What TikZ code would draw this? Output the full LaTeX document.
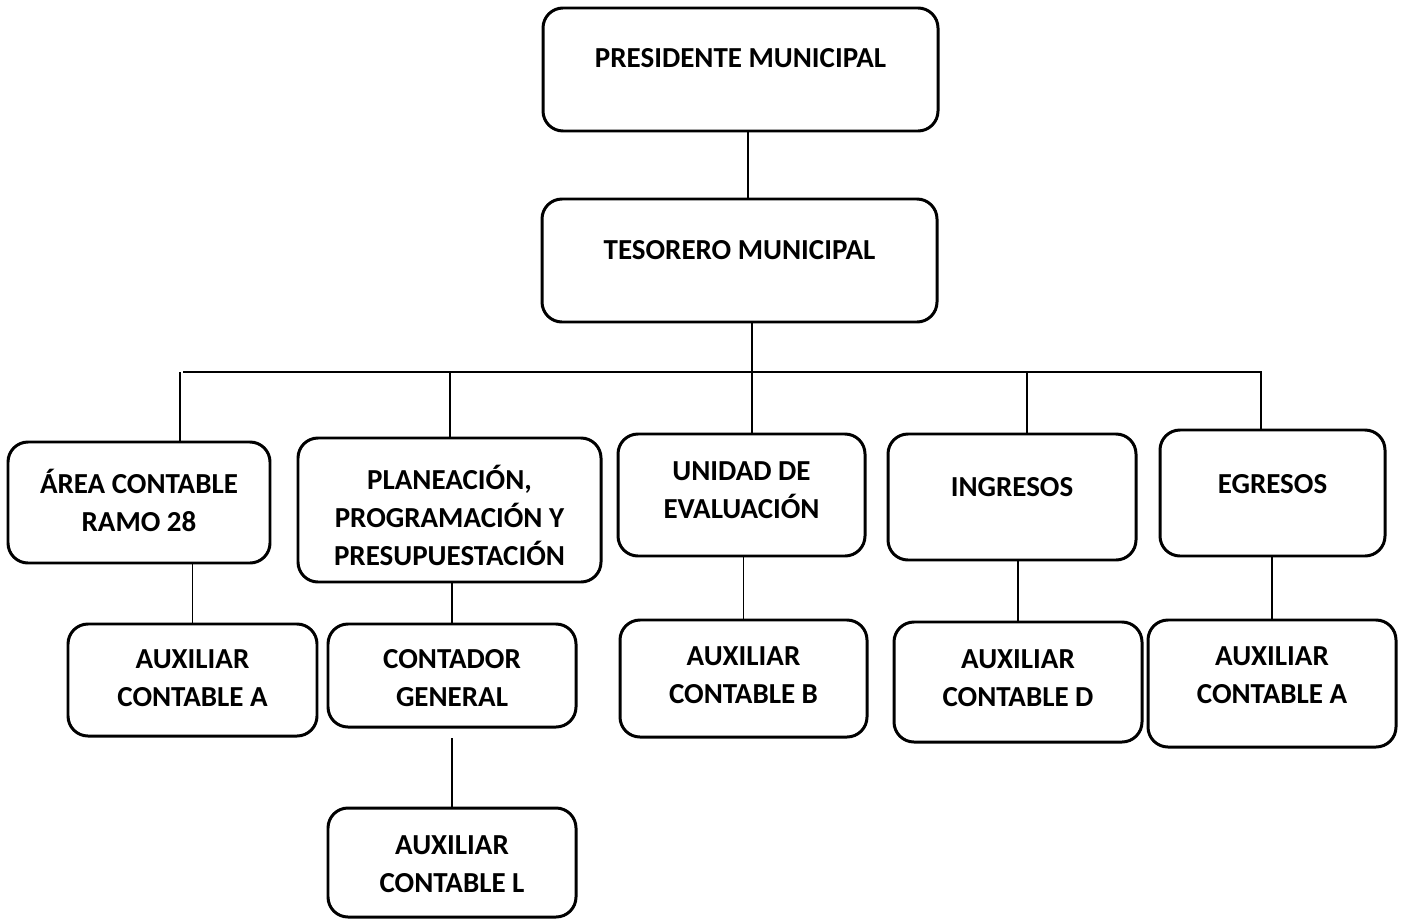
\documentclass[tikz,border=0pt]{standalone}
\usepackage{fontspec}
\setmainfont{Carlito}
\tikzset{
  card/.style={draw, line width=1.7pt, rounded corners=0.4cm, inner sep=0pt},
  lbl/.style={anchor=base, align=center, inner sep=0pt,
    font=\bfseries\fontsize{16.5}{21.5}\selectfont},
  wire/.style={line width=0.7pt}
}
\begin{document}
\begin{tikzpicture}[x=0.02cm, y=-0.02cm]
  \useasboundingbox (0,0) rectangle (1403,919);
  % boxes: name / center x / center y / width / height / last baseline / text
  \foreach \nm/\cx/\cy/\w/\h/\ty/\txt in {
      pres/740.5/69.5/395/123/68/{PRESIDENTE MUNICIPAL},
      teso/739.5/260.5/395/123/259/{TESORERO MUNICIPAL},
      area/139/502.5/262/121/531/{ÁREA CONTABLE\\RAMO 28},
      plan/449.5/510/303/144/565/{PLANEACIÓN,\\PROGRAMACIÓN Y\\PRESUPUESTACIÓN},
      unid/741.5/495/247/122/518/{UNIDAD DE\\EVALUACIÓN},
      ingr/1012/497/248/126/496/{INGRESOS},
      egre/1272.5/493/225/126/493/{EGRESOS},
      auxa/192.5/680/249/112/706/{AUXILIAR\\CONTABLE A},
      cont/452/675.5/248/103/706/{CONTADOR\\GENERAL},
      auxb/743.5/678.5/247/117/703/{AUXILIAR\\CONTABLE B},
      auxd/1018/682/248/120/706/{AUXILIAR\\CONTABLE D},
      auxr/1272/683.5/248/127/703/{AUXILIAR\\CONTABLE A},
      auxl/452/862.5/248/109/892/{AUXILIAR\\CONTABLE L}}
  {
    \node[card, minimum width=\w*0.02cm, minimum height=\h*0.02cm]
      (\nm) at (\cx,\cy) {};
    \node[lbl] (\nm-t) at (\cx,\ty) {\txt};
  }

  % trunk
  \coordinate (t0) at (748,0);
  \coordinate (t1) at (752,0);
  \draw[wire] (t0 |- pres.south) -- (t0 |- teso.north);
  \draw[wire] (t1 |- teso.south) -- (t1 |- unid.north);

  % bus
  \coordinate (busL) at (183,372);
  \coordinate (busR) at (1262,372);
  \draw[wire] (busL) -- (busR);
  \foreach \x/\b in {180/area, 450/plan, 1027/ingr, 1261/egre}
  {
    \coordinate (b-\b) at (\x,372);
    \draw[wire] (b-\b) -- (b-\b |- \b.north);
  }

  % second level
  \foreach \up/\dn in {area/auxa, plan/cont, unid/auxb, ingr/auxd, egre/auxr}
    \draw[wire] (\dn.north |- \up.south) -- (\dn.north);
  \draw[wire] ([yshift=-0.2cm]cont.south) -- (auxl.north);
\end{tikzpicture}
\end{document}
